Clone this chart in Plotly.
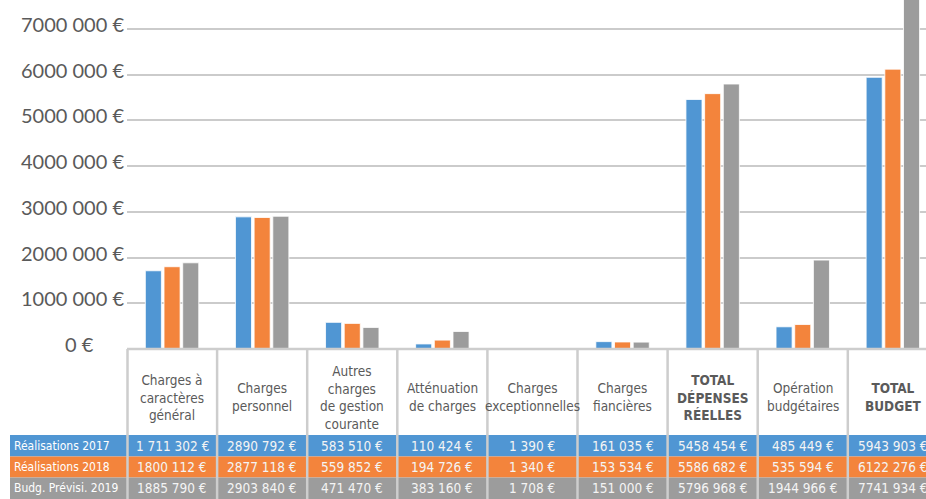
import plotly.graph_objects as go

# ---------------- data ----------------
categories = [
    "Charges à<br>caractères<br>général",
    "Charges<br>personnel",
    "Autres<br>charges<br>de gestion<br>courante",
    "Atténuation<br>de charges",
    "Charges<br>exceptionnelles",
    "Charges<br>fiancières",
    "<b>TOTAL<br>DÉPENSES<br>RÉELLES</b>",
    "Opération<br>budgétaires",
    "<b>TOTAL<br>BUDGET</b>",
]
series_names = ["Réalisations 2017", "Réalisations 2018", "Budg. Prévisi. 2019"]
real_2017 = [1711302, 2890792, 583510, 110424, 1390, 161035, 5458454, 485449, 5943903]
real_2018 = [1800112, 2877118, 559852, 194726, 1340, 153534, 5586682, 535594, 6122276]
budget_2019 = [1885790, 2903840, 471470, 383160, 1708, 151000, 5796968, 1944966, 7741934]
labels_2017 = ["1 711 302 €", "2890 792 €", "583 510 €", "110 424 €", "1 390 €",
               "161 035 €", "5458 454 €", "485 449 €", "5943 903 €"]
labels_2018 = ["1800 112 €", "2877 118 €", "559 852 €", "194 726 €", "1 340 €",
               "153 534 €", "5586 682 €", "535 594 €", "6122 276 €"]
labels_2019 = ["1885 790 €", "2903 840 €", "471 470 €", "383 160 €", "1 708 €",
               "151 000 €", "5796 968 €", "1944 966 €", "7741 934 €"]
y_tick_values = [0, 1000000, 2000000, 3000000, 4000000, 5000000, 6000000, 7000000]
y_tick_labels = ["0 €" + "\u00a0" * 6, "1000 000 €", "2000 000 €", "3000 000 €",
                 "4000 000 €", "5000 000 €", "6000 000 €", "7000 000 €"]

# ---------------- style ----------------
W, H = 926, 499
ML, MT, MB = 127, 0, 150
PLOT_H = H - MT - MB            # 349 px
PLOT_W = W - ML                 # 799 px
COLORS = ["#5096d3", "#f3843c", "#9c9c9c"]
GRID = "#cbcbcb"
TXT = "#5a5a5a"
COND = "Liberation Sans Narrow, DejaVu Sans Condensed, Roboto Condensed, Roboto, sans-serif"


def py(pix):
    """pixel row (from top of figure) -> paper y"""
    return (MT + PLOT_H - pix) / PLOT_H


def px(pix):
    """pixel column -> paper x"""
    return (pix - ML) / PLOT_W


xs = list(range(len(categories)))
series = [real_2017, real_2018, budget_2019]
labels = [labels_2017, labels_2018, labels_2019]

fig = go.Figure()
for name, vals, col in zip(series_names, series, COLORS):
    fig.add_trace(go.Bar(
        x=xs, y=vals, name=name,
        marker=dict(color=col, line=dict(color="rgba(255,255,255,0.8)", width=1)),
        hoverinfo="skip",
    ))

shapes = []
annotations = []

# table rows (coloured bands)
row_edges = [435, 456.5, 477.5, 499]
for r in range(3):
    shapes.append(dict(type="rect", xref="paper", yref="paper",
                       x0=px(10), x1=1, y0=py(row_edges[r]), y1=py(row_edges[r + 1]),
                       fillcolor=COLORS[r], line=dict(width=0), layer="below"))
    yc = py((row_edges[r] + row_edges[r + 1]) / 2)
    annotations.append(dict(xref="paper", yref="paper", x=px(12), y=yc,
                            xanchor="left", yanchor="middle", showarrow=False,
                            text=series_names[r],
                            font=dict(family=COND, size=12, color="white")))
    for i in xs:
        annotations.append(dict(xref="x", yref="paper", x=i, y=yc,
                                xanchor="center", yanchor="middle", showarrow=False,
                                text=labels[r][i],
                                font=dict(family=COND, size=13.5, color="#f4f4f4")))

# header labels
for i in xs:
    annotations.append(dict(xref="x", yref="paper", x=i, y=py(397),
                            xanchor="center", yanchor="middle", showarrow=False,
                            text=categories[i],
                            font=dict(family=COND, size=13.5, color=TXT)))

# column separators
for i in range(1, len(categories) + 1):
    shapes.append(dict(type="line", xref="x", yref="paper",
                       x0=i - 0.5, x1=i - 0.5, y0=py(349), y1=py(499),
                       line=dict(color="#cdcdcd", width=2.5), layer="above"))
shapes.append(dict(type="line", xref="paper", yref="paper",
                   x0=px(127.5), x1=px(127.5), y0=py(349), y1=py(499),
                   line=dict(color="#cdcdcd", width=2.5), layer="above"))
# table top border
shapes.append(dict(type="line", xref="paper", yref="paper",
                   x0=0, x1=1, y0=0, y1=0,
                   line=dict(color="#cdcdcd", width=2.5), layer="above"))

units_visible = PLOT_W / 90.1
fig.update_layout(
    width=W, height=H,
    margin=dict(l=ML, r=0, t=MT, b=MB, pad=0),
    paper_bgcolor="white", plot_bgcolor="white",
    barmode="group", bargap=0.378, bargroupgap=0.14,
    showlegend=False,
    shapes=shapes, annotations=annotations,
    xaxis=dict(range=[-0.5, -0.5 + units_visible], showticklabels=False,
               showgrid=False, zeroline=False, showline=False, ticks=""),
    yaxis=dict(range=[0, 7635000], tickvals=y_tick_values, ticktext=y_tick_labels,
               showgrid=True, gridcolor=GRID, gridwidth=1.6, zeroline=False,
               showline=False, ticks="", ticklabelstandoff=2, ticklabelshift=-4,
               tickfont=dict(family="Lato", size=20, color=TXT)),
)

fig.write_html("out.html", config={"displayModeBar": False},
               post_script="document.body.style.margin='0';")
